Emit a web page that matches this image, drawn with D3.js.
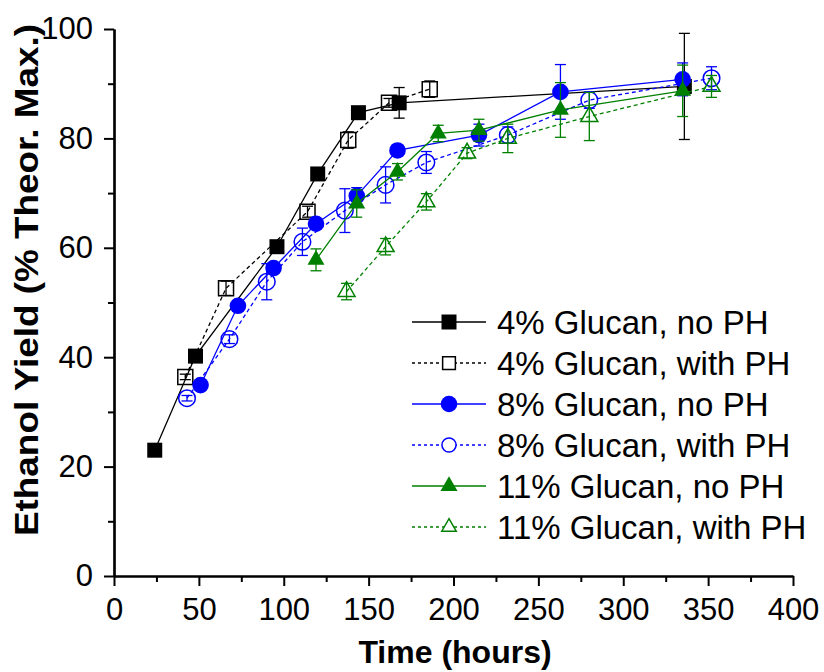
<!DOCTYPE html>
<html>
<head>
<meta charset="utf-8">
<script src="https://cdn.jsdelivr.net/npm/d3@7"></script>
<style>
  body { margin: 0; background: #fff; }
  text { font-family: Arial, "Liberation Sans", sans-serif; }
</style>
</head>
<body>
<svg id="chart" width="824" height="672"></svg>
<script>
// data: [hours, yield %, error]
const glc4NoPH = [[24, 23.0, 0.5], [48, 40.2, 0.5], [96, 60.2, 0.7], [120, 73.5, 1], [144, 84.7, 0.8], [168, 86.5, 2.8], [336, 89.5, 9.7]];
const glc4PH = [[42, 36.4, 0.5], [66, 52.6, 1.3], [114, 66.6, 1], [138, 79.7, 1.5], [162, 86.5, 0.8], [186, 89.0, 1.5]];
const glc8NoPH = [[51, 34.9, 0.5], [73, 49.4, 0.8], [94, 56.3, 0.8], [119, 64.4, 0.8], [143, 69.5, 1.5], [167, 77.8, 0.8], [215, 80.6, 2], [263, 88.5, 5], [335, 90.8, 3]];
const glc8PH = [[43, 32.5, 0.5], [68, 43.3, 0.8], [90, 53.8, 3.3], [111, 61.1, 2.5], [136, 66.8, 4], [160, 71.5, 3.3], [184, 75.6, 2], [232, 80.6, 1.5], [280, 87.0, 1.5], [352, 91.0, 2.1]];
const glc11NoPH = [[119, 57.8, 2], [143, 68.1, 2.5], [167, 73.9, 1.5], [191, 80.9, 1.5], [215, 81.5, 2], [263, 85.2, 5], [335, 88.7, 4.7]];
const glc11PH = [[137, 52.0, 1.5], [160, 60.2, 1.5], [184, 68.4, 1.5], [208, 77.3, 1], [232, 80.0, 2.6], [280, 84.0, 4.4], [352, 89.5, 2]];

const seriesNames = ["4% Glucan, no PH", "4% Glucan, with PH", "8% Glucan, no PH",
                     "8% Glucan, with PH", "11% Glucan, no PH", "11% Glucan, with PH"];
const xTicks = [0, 50, 100, 150, 200, 250, 300, 350, 400];
const yTicks = [0, 20, 40, 60, 80, 100];

const series = [
  {name: seriesNames[0], data: glc4NoPH, color: "#000000", shape: "square", filled: true, dash: null},
  {name: seriesNames[1], data: glc4PH, color: "#000000", shape: "square", filled: false, dash: "4,3"},
  {name: seriesNames[2], data: glc8NoPH, color: "#0000ff", shape: "circle", filled: true, dash: null},
  {name: seriesNames[3], data: glc8PH, color: "#0000ff", shape: "circle", filled: false, dash: "4,3"},
  {name: seriesNames[4], data: glc11NoPH, color: "#008000", shape: "triangle", filled: true, dash: null},
  {name: seriesNames[5], data: glc11PH, color: "#008000", shape: "triangle", filled: false, dash: "4,3"}
];

const svg = d3.select("#chart");

const x = d3.scaleLinear().domain([0, 400]).range([114, 793]);
const y = d3.scaleLinear().domain([0, 100]).range([576, 29]);

// marker path builder
function markerPath(shape, scale) {
  const k = scale || 1;
  if (shape === "square") return d3.symbol(d3.symbolSquare, 15 * 15 * k * k)();
  if (shape === "circle") return d3.symbol(d3.symbolCircle, Math.PI * 8.3 * 8.3 * k * k)();
  return d3.symbol(d3.symbolTriangle, 17 * 17 * Math.sqrt(3) / 4 * k * k)();
}

// AXES
const xAxis = svg.append("g").attr("transform", "translate(0,576)");
xAxis.call(d3.axisBottom(x).tickValues(d3.range(25, 400, 50)).tickSize(6).tickSizeOuter(0).tickFormat(""));
xAxis.call(g => g.append("g").call(d3.axisBottom(x).tickValues(xTicks).tickSize(10).tickSizeOuter(0).tickPadding(12)));
xAxis.selectAll(".domain").attr("stroke-width", 2.2);
xAxis.selectAll("line").attr("stroke-width", 2);
xAxis.selectAll("text").attr("font-size", 31).attr("fill", "#000").attr("font-family", "Arial, 'Liberation Sans', sans-serif");

const yAxis = svg.append("g").attr("transform", "translate(114,0)");
yAxis.call(d3.axisLeft(y).tickValues(d3.range(10, 100, 20)).tickSize(6).tickSizeOuter(0).tickFormat(""));
yAxis.call(g => g.append("g").call(d3.axisLeft(y).tickValues(yTicks).tickSize(10).tickSizeOuter(0).tickPadding(11)));
yAxis.selectAll(".domain").attr("stroke-width", 2.2);
yAxis.selectAll("line").attr("stroke-width", 2);
yAxis.selectAll("text").attr("font-size", 31).attr("fill", "#000").attr("font-family", "Arial, 'Liberation Sans', sans-serif");

svg.append("text")
  .attr("x", 455)
  .attr("y", 663)
  .attr("text-anchor", "middle")
  .attr("font-size", 32)
  .attr("font-weight", "bold")
  .text("Time (hours)");

svg.append("text")
  .attr("transform", "translate(38,280) rotate(-90)")
  .attr("text-anchor", "middle")
  .attr("font-size", 33)
  .attr("font-weight", "bold")
  .attr("textLength", 512)
  .attr("lengthAdjust", "spacingAndGlyphs")
  .text("Ethanol Yield (% Theor. Max.)");

// SERIES
const line = d3.line().x(d => x(d[0])).y(d => y(d[1]));

series.forEach(s => {
  const g = svg.append("g");
  g.append("path")
    .attr("d", line(s.data))
    .attr("fill", "none")
    .attr("stroke", s.color)
    .attr("stroke-width", 1.3)
    .attr("stroke-dasharray", s.dash);

  // error bars
  const eb = g.selectAll(".err").data(s.data).join("g").attr("stroke", s.color).attr("stroke-width", 1.3);
  eb.append("line")
    .attr("x1", d => x(d[0])).attr("x2", d => x(d[0]))
    .attr("y1", d => y(d[1] - d[2])).attr("y2", d => y(d[1] + d[2]));
  eb.append("line")
    .attr("x1", d => x(d[0]) - 5.5).attr("x2", d => x(d[0]) + 5.5)
    .attr("y1", d => y(d[1] - d[2])).attr("y2", d => y(d[1] - d[2]));
  eb.append("line")
    .attr("x1", d => x(d[0]) - 5.5).attr("x2", d => x(d[0]) + 5.5)
    .attr("y1", d => y(d[1] + d[2])).attr("y2", d => y(d[1] + d[2]));

  g.selectAll(".mk").data(s.data).join("path")
    .attr("d", markerPath(s.shape))
    .attr("transform", d => `translate(${x(d[0])},${y(d[1])})`)
    .attr("fill", s.filled ? s.color : "#fff")
    .attr("fill-opacity", s.filled ? 1 : 0)
    .attr("stroke", s.color)
    .attr("stroke-width", s.filled ? 0 : 1.5);
});

// LEGEND
const legend = svg.append("g");
series.forEach((s, i) => {
  const ly = 322 + i * 41;
  legend.append("line")
    .attr("x1", 412).attr("x2", 486)
    .attr("y1", ly).attr("y2", ly)
    .attr("stroke", s.color)
    .attr("stroke-width", 1.3)
    .attr("stroke-dasharray", s.dash ? "3,3" : null);
  legend.append("path")
    .attr("d", markerPath(s.shape, s.filled ? 1 : 0.85))
    .attr("transform", `translate(449,${ly})`)
    .attr("fill", s.filled ? s.color : "#fff")
    .attr("stroke", s.color)
    .attr("stroke-width", s.filled ? 0 : 1.5);
  legend.append("text")
    .attr("x", 497)
    .attr("y", ly + 12)
    .attr("font-size", 33)
    .text(s.name);
});
</script>
</body>
</html>
